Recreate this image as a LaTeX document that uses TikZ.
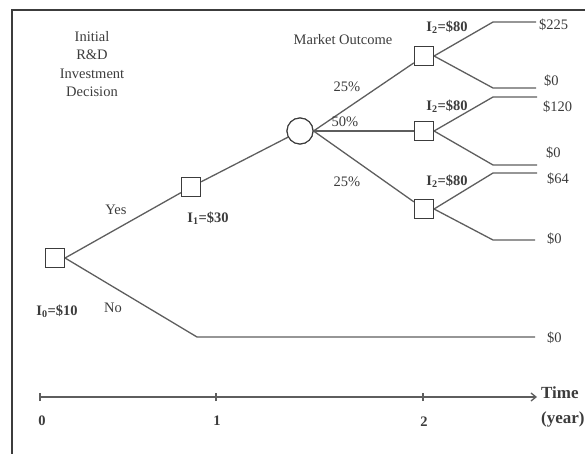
\documentclass[tikz,border=0pt]{standalone}
\usepackage{fontspec}
\setmainfont{Liberation Serif}
\usetikzlibrary{arrows.meta}
\definecolor{ln}{HTML}{5E5E5E}
\definecolor{tx}{HTML}{3C3C3C}
\begin{document}
\begin{tikzpicture}[x=1pt,y=-1pt,
  every node/.style={text=tx,font=\fontsize{14.5}{18.5}\selectfont,inner sep=0pt},
  dec/.style={draw=tx,line width=1.1pt,fill=white,minimum size=19pt,inner sep=0pt},
  chance/.style={circle,draw=tx,line width=1.1pt,fill=white,minimum size=26pt,inner sep=0pt},
  br/.style={draw=ln,line width=1.3pt},
  bl/.style={font=\fontsize{14.5}{18.5}\selectfont\bfseries},
  big/.style={font=\fontsize{17}{21}\selectfont\bfseries,align=left}]
\useasboundingbox (0,0) rectangle (585,454);
% frame
\draw[draw=tx,line width=1.2pt] (12,454) -- (12,10) -- (585,10);
% nodes
\node[dec] (r0) at (55,258) {};
\node[dec] (s1) at (191,187) {};
\node[chance] (c) at (300,131) {};
\node[dec] (t2) at (424,56) {};
\node[dec] (m2) at (424,131) {};
\node[dec] (b2) at (424,209) {};
% bend coordinates and ends
\coordinate (tA) at (493,22);  \coordinate (tAe) at (536,22);
\coordinate (tB) at (493,88);  \coordinate (tBe) at (536,88);
\coordinate (mA) at (493,97);  \coordinate (mAe) at (537,97);
\coordinate (mB) at (493,165); \coordinate (mBe) at (537,165);
\coordinate (bA) at (493,173); \coordinate (bAe) at (537,173);
\coordinate (bB) at (493,240); \coordinate (bBe) at (535,240);
\coordinate (nA) at (197,337); \coordinate (nAe) at (535,337);
% branches
\draw[br] (r0.east) -- (s1);
\draw[br] (r0.east) -- (nA) -- (nAe);
\draw[br] (s1) -- (c);
\draw[br] (c.east) -- (t2);
\draw[br] (c.east) -- (m2.west);
\draw[br] (c.east) -- (b2);
\draw[br] (t2.east) -- (tA) -- (tAe);
\draw[br] (t2.east) -- (tB) -- (tBe);
\draw[br] (m2.east) -- (mA) -- (mAe);
\draw[br] (m2.east) -- (mB) -- (mBe);
\draw[br] (b2.east) -- (bA) -- (bAe);
\draw[br] (b2.east) -- (bB) -- (bBe);
% redraw shapes on top
\node[dec] at (r0) {};
\node[dec] at (s1) {};
\node[chance] at (c) {};
\node[dec] at (t2) {};
\node[dec] at (m2) {};
\node[dec] at (b2) {};
% labels
\node[align=center] (title) at (92,64) {Initial\\R\&D\\Investment\\Decision};
\node (mo) at (343,40) {Market Outcome};
\node (yes) at (116,210) {Yes};
\node (no) at (113,308) {No};
\node[bl] (i0) at (57,311) {I\textsubscript{0}=\$10};
\node[bl] (i1) at (208,218) {I\textsubscript{1}=\$30};
\node (p1) at (347,87) {25\%};
\node (p2) at (345,122) {50\%};
\node (p3) at (347,182) {25\%};
\node[bl] (i2a) at (447,27) {I\textsubscript{2}=\$80};
\node[bl] (i2b) at (447,106) {I\textsubscript{2}=\$80};
\node[bl] (i2c) at (447,181) {I\textsubscript{2}=\$80};
\node[anchor=west] (v1) at (539,25) {\$225};
\node[anchor=west] (v2) at (544,81) {\$0};
\node[anchor=west] (v3) at (543,107) {\$120};
\node[anchor=west] (v4) at (546,153) {\$0};
\node[anchor=west] (v5) at (547,179) {\$64};
\node[anchor=west] (v6) at (547,239) {\$0};
\node[anchor=west] (v7) at (547,338) {\$0};
% time axis
\coordinate (ax0) at (40,397);
\coordinate (ax1) at (216,397);
\coordinate (ax2) at (423,397);
\coordinate (axe) at (537,397);
\draw[br,-{Straight Barb[length=5pt,width=8pt]}] (ax0) -- (axe);
\draw[draw=ln,line width=1.1pt] ([yshift=-4]ax0) -- ([yshift=4]ax0);
\draw[draw=ln,line width=1.1pt] ([yshift=-4]ax1) -- ([yshift=4]ax1);
\draw[draw=ln,line width=1.1pt] ([yshift=-4]ax2) -- ([yshift=4]ax2);
\node[bl] (t0) at (42,421) {0};
\node[bl] (t1) at (217,421) {1};
\node[bl] (t2l) at (424,422) {2};
\node[big,anchor=west] (time) at (541,393) {Time};
\node[big,anchor=west] (yr) at (541,419) {(year)};
\end{tikzpicture}
\end{document}
